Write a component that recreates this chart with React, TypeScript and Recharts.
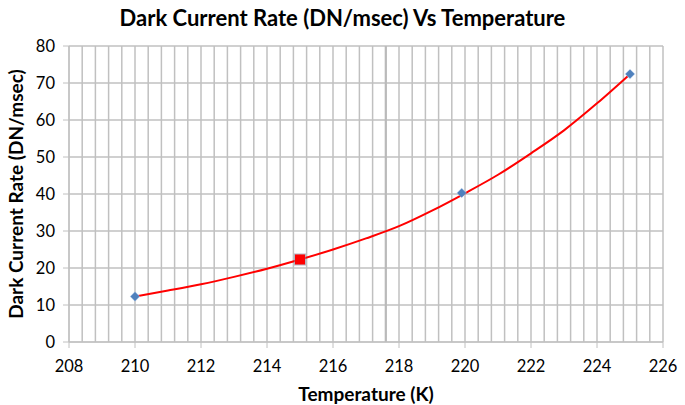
import React from 'react';
import { ComposedChart, Line, Scatter, XAxis, YAxis, CartesianGrid, ReferenceLine } from 'recharts';

// Fitted trend curve
const trendTemps = [210, 211, 212, 213, 214, 215, 216, 217, 218, 219, 220, 221, 222, 223, 224, 225];
const trendRates = [12.3, 13.9, 15.6, 17.6, 19.8, 22.3, 25.0, 28.0, 31.3, 35.5, 40.2, 45.2, 51.0, 57.2, 64.5, 72.4];

// Measured points
const measuredTemps = [210, 215, 219.9, 225];
const measuredRates = [12.3, 22.3, 40.3, 72.4];

// Highlighted point
const highlightTemps = [215];
const highlightRates = [22.3];

const xTicks = [208, 210, 212, 214, 216, 218, 220, 222, 224, 226];
const yTicks = [0, 10, 20, 30, 40, 50, 60, 70, 80];

const minorX: number[] = [];
for (let i = 0; i <= 45; i++) minorX.push(+(208 + i * 0.4).toFixed(1));

const trendData = trendTemps.map((t, i) => ({ t, rate: trendRates[i] }));
const measuredData = measuredTemps.map((t, i) => ({ t, rate: measuredRates[i] }));
const highlightData = highlightTemps.map((t, i) => ({ t, rate: highlightRates[i] }));

const FONT = 'Lato, "Open Sans", sans-serif';
const GRID = '#c0c0c0';

const Diamond = (props: any) => {
  const { cx, cy } = props;
  if (cx == null || cy == null) return null;
  const r = 4.5;
  return (
    <g>
      <path d={`M${cx},${cy - r - 0.7} L${cx + r + 0.7},${cy} L${cx},${cy + r + 0.7} L${cx - r - 0.7},${cy} Z`} fill="#a9c4e8" opacity={0.7} />
      <path d={`M${cx},${cy - r} L${cx + r},${cy} L${cx},${cy + r} L${cx - r},${cy} Z`} fill="#4f81bd" />
    </g>
  );
};

const Square = (props: any) => {
  const { cx, cy } = props;
  if (cx == null || cy == null) return null;
  const s = 10;
  return (
    <g>
      <rect x={cx - s / 2 - 1} y={cy - s / 2 - 1} width={s + 2} height={s + 2} fill="#8a8aa0" opacity={0.6} />
      <rect x={cx - s / 2} y={cy - s / 2} width={s} height={s} fill="#ff0000" />
    </g>
  );
};

export default function App() {
  return (
    <div style={{ position: 'absolute', left: 0, top: 0, width: 685, height: 405, background: '#fff', fontFamily: FONT }}>
      <div style={{ position: 'absolute', left: 0, top: 4, width: 685, textAlign: 'center', fontSize: 22, fontWeight: 700, color: '#000', fontFamily: FONT }}>
        Dark Current Rate (DN/msec) Vs Temperature
      </div>
      <ComposedChart width={685} height={405} data={trendData} margin={{ top: 46, right: 22, bottom: 0, left: 0 }}>
        <CartesianGrid stroke={GRID} strokeWidth={1.5} vertical={false} />
        {minorX.map((v) => (
          <ReferenceLine key={v} x={v} stroke={GRID} strokeWidth={1.5} />
        ))}
        <ReferenceLine x={217.6} stroke="#bababa" strokeWidth={2.2} />
        <XAxis
          type="number"
          dataKey="t"
          domain={[208, 226]}
          ticks={xTicks}
          allowDataOverflow
          height={63}
          stroke={GRID}
          tickSize={6}
          tickMargin={12}
          tick={{ fill: '#000', fontSize: 16.5, fontFamily: FONT }}
          label={{ value: 'Temperature (K)', position: 'insideBottom', offset: 4, fill: '#000', fontSize: 19, fontWeight: 700, fontFamily: FONT }}
        />
        <YAxis
          type="number"
          domain={[0, 80]}
          ticks={yTicks}
          width={69}
          stroke={GRID}
          tickSize={6}
          tickMargin={8}
          tick={{ fill: '#000', fontSize: 16.5, fontFamily: FONT }}
          label={{ value: 'Dark Current Rate (DN/msec)', angle: -90, position: 'insideLeft', offset: 16, style: { textAnchor: 'middle' }, fill: '#000', fontSize: 19, fontWeight: 700, fontFamily: FONT }}
        />
        <Scatter data={measuredData} dataKey="rate" shape={<Diamond />} isAnimationActive={false} />
        <Line dataKey="rate" type="monotone" stroke="#ff0000" strokeWidth={2} dot={false} activeDot={false} isAnimationActive={false} />
        <Scatter data={highlightData} dataKey="rate" shape={<Square />} isAnimationActive={false} />
      </ComposedChart>
    </div>
  );
}
